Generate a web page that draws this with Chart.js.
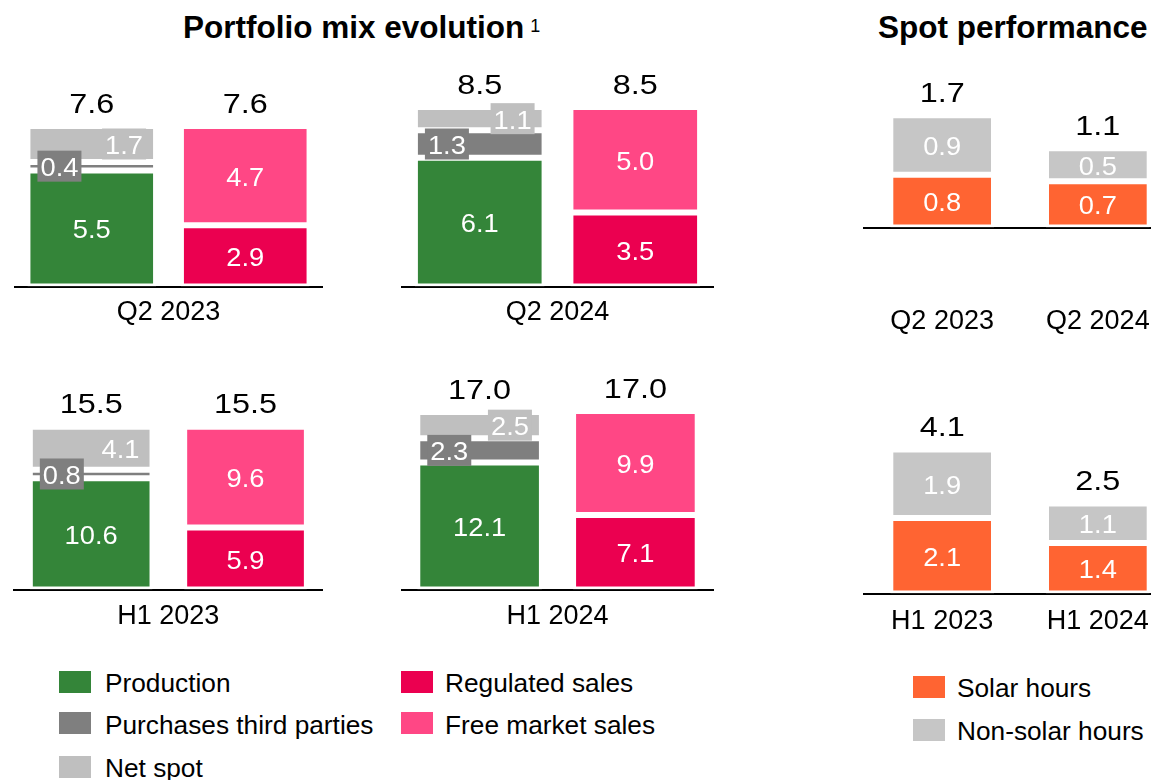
<!DOCTYPE html>
<html><head><meta charset="utf-8">
<script src="https://cdn.jsdelivr.net/npm/chart.js@4.4.1/dist/chart.umd.min.js"></script>
<style>
html,body{margin:0;padding:0;width:1151px;height:780px;overflow:hidden;background:#fff;font-family:"Liberation Sans",Arial,sans-serif;position:relative;}
canvas{position:absolute;}
.t{position:absolute;white-space:nowrap;line-height:1;color:#000;}
.title{font-weight:bold;font-size:31.5px;}
.sup{font-weight:normal;font-size:18px;position:relative;top:-6px;margin-left:6px;}
.leg{font-size:25px;transform:scaleX(1.05);transform-origin:0 0;}
.sq{position:absolute;}
</style></head><body>
<div class="t title" style="left:183px;top:11.5px">Portfolio mix evolution<span class="sup">1</span></div>
<div class="t title" style="left:878px;top:11.5px">Spot performance</div>
<canvas id="pQ223" width="345" height="280" style="left:0px;top:60px"></canvas>
<canvas id="pQ224" width="345" height="280" style="left:385px;top:60px"></canvas>
<canvas id="pH123" width="345" height="280" style="left:0px;top:370px"></canvas>
<canvas id="pH124" width="345" height="280" style="left:385px;top:370px"></canvas>
<canvas id="sQ2" width="340" height="290" style="left:850px;top:60px"></canvas>
<canvas id="sH1" width="340" height="280" style="left:850px;top:380px"></canvas>
<div id="legends"></div>
<script>
// ---------- DATA ----------
const barGroups = ['Sources', 'Sales'];
const portfolioPeriods = ['Q2 2023', 'Q2 2024', 'H1 2023', 'H1 2024'];
const portfolioTotals = [7.6, 8.5, 15.5, 17.0];
const production = [5.5, 6.1, 10.6, 12.1];
const purchasesThirdParties = [0.4, 1.3, 0.8, 2.3];
const netSpot = [1.7, 1.1, 4.1, 2.5];
const regulatedSales = [2.9, 3.5, 5.9, 7.1];
const freeMarketSales = [4.7, 5.0, 9.6, 9.9];
const portfolioSeries = ['Production', 'Purchases third parties', 'Net spot', 'Regulated sales', 'Free market sales'];

const spotQ2Periods = ['Q2 2023', 'Q2 2024'];
const spotQ2Totals = [1.7, 1.1];
const spotQ2Solar = [0.8, 0.7];
const spotQ2NonSolar = [0.9, 0.5];
const spotH1Periods = ['H1 2023', 'H1 2024'];
const spotH1Totals = [4.1, 2.5];
const spotH1Solar = [2.1, 1.4];
const spotH1NonSolar = [1.9, 1.1];
const spotSeries = ['Solar hours', 'Non-solar hours'];

// ---------- STYLE ----------
const FONT = '"Liberation Sans", Arial, sans-serif';
const portfolioColors = ['#348539', '#7F7F7F', '#BFBFBF', '#EB0050', '#FF4785'];
const spotColors = ['#FF6432', '#C6C6C6'];

function drawScaledText(ctx, text, x, y, size, color, sx) {
  ctx.save();
  ctx.font = size + 'px ' + FONT;
  ctx.fillStyle = color;
  ctx.textAlign = 'center';
  ctx.textBaseline = 'alphabetic';
  ctx.translate(x, y);
  ctx.scale(sx, 1);
  ctx.fillText(text, 0, 0);
  ctx.restore();
}

const segLabels = {
  id: 'segLabels',
  afterDatasetsDraw(chart, args, opts) {
    const ctx = chart.ctx;
    const tops = {};
    chart.data.datasets.forEach((ds, di) => {
      const meta = chart.getDatasetMeta(di);
      meta.data.forEach((el, i) => {
        const v = ds.data[i];
        if (v === null || v === undefined) return;
        const p = el.getProps(['x', 'y', 'base', 'width'], true);
        tops[i] = tops[i] === undefined ? p.y : Math.min(tops[i], p.y);
        const cy = (p.y + p.base) / 2;
        let cx = p.x;
        if (ds.labelMode === 'boxLeft' || ds.labelMode === 'boxRight') {
          const bw = 44, bh = 31;
          const left = ds.labelMode === 'boxLeft' ? p.x - p.width / 2 + 10 : p.x + p.width / 2 - 10 - bw;
          ctx.fillStyle = ds.backgroundColor;
          ctx.fillRect(left, cy - bh / 2, bw, bh);
          cx = left + bw / 2;
        }
        drawScaledText(ctx, v.toFixed(1), cx, cy + 10, 26, '#FFFFFF', 1.05);
      });
    });
    (opts.totals || []).forEach((t, i) => {
      if (tops[i] === undefined) return;
      drawScaledText(ctx, t.toFixed(1), chart.scales.x.getPixelForValue(i), tops[i] - 13.3, 27, '#000000', 1.2);
    });
  }
};

function baseOptions(geo) {
  return {
    responsive: false, animation: false, devicePixelRatio: 1,
    layout: { autoPadding: false, padding: { left: geo.pl, right: geo.pr, top: geo.pt, bottom: 0 } },
    datasets: { bar: { borderColor: '#FFFFFF', borderWidth: 3, borderSkipped: false, barPercentage: geo.bp, categoryPercentage: 1 } },
    plugins: { legend: { display: false }, tooltip: { enabled: false }, segLabels: { totals: geo.totals } },
    scales: {
      x: {
        stacked: true,
        grid: { display: false, drawTicks: false },
        border: { display: true, color: '#000000', width: 2 },
        ticks: geo.ticks,
        title: geo.title,
        afterFit: (s) => { s.height = geo.xh; }
      },
      y: { stacked: true, display: false, min: 0, max: geo.ymax }
    }
  };
}

function portfolioChart(id, p, geo) {
  const modes = ['center', 'boxLeft', 'boxRight', 'center', 'center'];
  const series = [production, purchasesThirdParties, netSpot, regulatedSales, freeMarketSales];
  const datasets = series.map((arr, k) => ({
    label: portfolioSeries[k],
    data: k < 3 ? [arr[p], null] : [null, arr[p]],
    backgroundColor: portfolioColors[k],
    labelMode: modes[k]
  }));
  geo.totals = [portfolioTotals[p], portfolioTotals[p]];
  geo.ticks = { display: false };
  geo.title = { display: true, text: portfolioPeriods[p], color: '#000000', font: { size: 27, family: FONT }, padding: { top: 0, bottom: geo.tb } };
  return new Chart(document.getElementById(id), { type: 'bar', data: { labels: barGroups, datasets }, options: baseOptions(geo), plugins: [segLabels] });
}

function spotChart(id, labels, solar, nonSolar, totals, geo) {
  const datasets = [solar, nonSolar].map((arr, k) => ({
    label: spotSeries[k], data: arr, backgroundColor: spotColors[k], labelMode: 'center'
  }));
  geo.totals = totals;
  const blankLines = geo.blankLines;
  geo.ticks = {
    display: true, color: '#000000', font: { size: 27, family: FONT }, padding: geo.tp, maxRotation: 0, autoSkip: false,
    callback: function (v) { const lab = this.getLabelForValue(v); return blankLines ? Array(blankLines).fill('').concat([lab]) : lab; }
  };
  geo.title = { display: false };
  return new Chart(document.getElementById(id), { type: 'bar', data: { labels, datasets }, options: baseOptions(geo), plugins: [segLabels] });
}

portfolioChart('pQ223', 0, { pl: 15, pr: 23, pt: 36.5, xh: 53.5, ymax: 9, bp: 0.838, tb: 10.8 });
portfolioChart('pQ224', 1, { pl: 17, pr: 17, pt: 36.5, xh: 53.5, ymax: 9, bp: 0.834, tb: 10.8 });
portfolioChart('pH123', 2, { pl: 14, pr: 22.3, pt: 30.5, xh: 60.5, ymax: 18, bp: 0.795, tb: 16.8 });
portfolioChart('pH124', 3, { pl: 16.7, pr: 16.7, pt: 30.5, xh: 60.5, ymax: 18, bp: 0.80, tb: 16.8 });
spotChart('sQ2', spotQ2Periods, spotQ2Solar, spotQ2NonSolar, spotQ2Totals, { pl: 14.3, pr: 14.3, pt: 35.5, xh: 122.5, ymax: 2, bp: 0.666, tp: 13.5, blankLines: 2 });
spotChart('sH1', spotH1Periods, spotH1Solar, spotH1NonSolar, spotH1Totals, { pl: 14.3, pr: 14.3, pt: 51.5, xh: 66.5, ymax: 4.5, bp: 0.666, tp: 11.8, blankLines: 0 });

// ---------- LEGENDS (HTML) ----------
const legendSlots = [
  { sx: 59.3, sy: 670.7, tx: 104.7 }, { sx: 59.3, sy: 712.3, tx: 104.7 }, { sx: 59.3, sy: 755.7, tx: 104.7 },
  { sx: 401, sy: 670.7, tx: 445 }, { sx: 401, sy: 712.3, tx: 445 }
];
const spotSlots = [{ sx: 913.3, sy: 676, tx: 957.3 }, { sx: 913.3, sy: 719, tx: 957.3 }];
const legEl = document.getElementById('legends');
function addLegend(name, color, s) {
  const sq = document.createElement('div');
  sq.className = 'sq';
  sq.style.cssText = `left:${s.sx}px;top:${s.sy}px;width:32px;height:22px;background:${color}`;
  legEl.appendChild(sq);
  const tx = document.createElement('div');
  tx.className = 't leg';
  tx.style.cssText = `left:${s.tx}px;top:${s.sy + 21.6 - 21.2}px`;
  tx.textContent = name;
  legEl.appendChild(tx);
}
portfolioSeries.forEach((n, i) => addLegend(n, portfolioColors[i], legendSlots[i]));
spotSeries.forEach((n, i) => addLegend(n, spotColors[i], spotSlots[i]));
</script>
</body></html>
